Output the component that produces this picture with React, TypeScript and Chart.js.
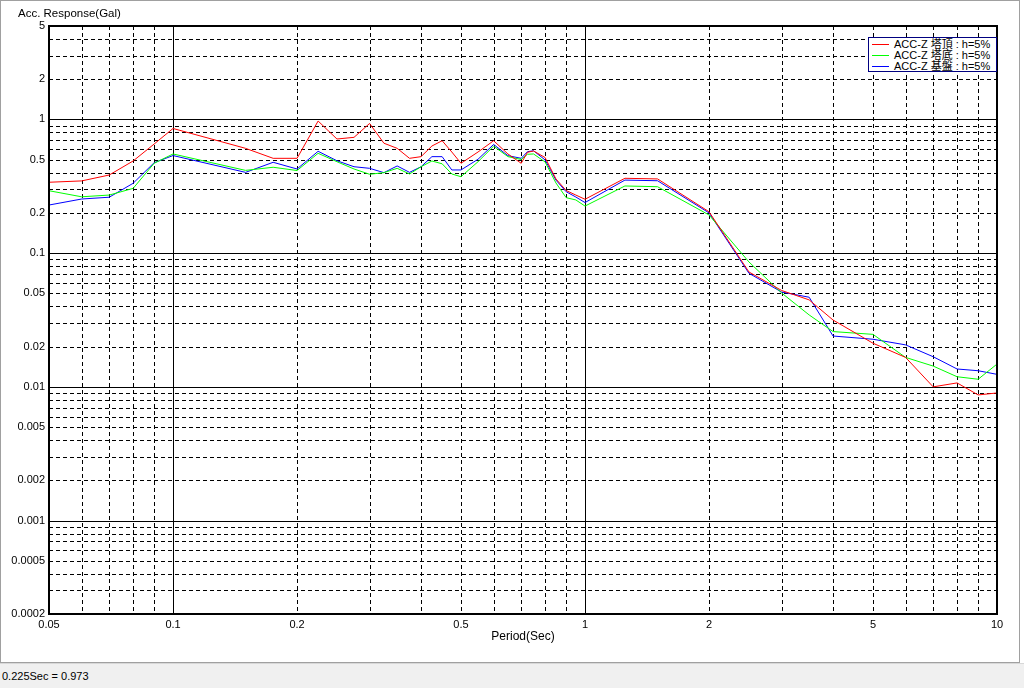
import React, { useEffect, useRef } from "react";
import { Chart, registerables } from "chart.js";

Chart.register(...registerables);

// Periods (sec)
const periods = [
  0.05, 0.06, 0.07, 0.08, 0.09, 0.1, 0.15, 0.175, 0.2, 0.225, 0.25, 0.275, 0.3,
  0.325, 0.35, 0.375, 0.4, 0.425, 0.45, 0.475, 0.5, 0.55, 0.6, 0.65, 0.7, 0.725,
  0.75, 0.8, 0.85, 0.9, 0.95, 1.0, 1.25, 1.5, 2.0, 2.5, 3.0, 3.5, 4, 5, 6, 7, 8, 9, 10,
];

// ACC-Z 塔頂 (red)
const topAcc = [
  0.339, 0.347, 0.384, 0.489, 0.655, 0.856, 0.608, 0.512, 0.512, 0.973, 0.714, 0.735, 0.933,
  0.664, 0.608, 0.512, 0.527, 0.633, 0.693, 0.571, 0.47, 0.571, 0.693, 0.552, 0.47, 0.568,
  0.581, 0.519, 0.359, 0.294, 0.272, 0.253, 0.363, 0.359, 0.204, 0.0723, 0.0526, 0.0447, 0.0316,
  0.0212, 0.0166, 0.01, 0.0107, 0.0087, 0.009,
];

// ACC-Z 塔底 (green)
const bottomAcc = [
  0.293, 0.264, 0.272, 0.305, 0.47, 0.552, 0.416, 0.439, 0.415, 0.558, 0.483, 0.426, 0.389,
  0.4, 0.431, 0.391, 0.443, 0.489, 0.466, 0.391, 0.373, 0.483, 0.631, 0.527, 0.502, 0.549,
  0.552, 0.481, 0.335, 0.26, 0.25, 0.225, 0.318, 0.314, 0.193, 0.0859, 0.0504, 0.0345, 0.0259,
  0.0247, 0.0166, 0.0143, 0.0119, 0.0114, 0.0148,
];

// ACC-Z 基盤 (blue)
const baseAcc = [
  0.229, 0.254, 0.262, 0.333, 0.475, 0.537, 0.402, 0.478, 0.426, 0.578, 0.491, 0.443, 0.431,
  0.4, 0.449, 0.402, 0.443, 0.527, 0.527, 0.419, 0.419, 0.504, 0.65, 0.536, 0.512, 0.574,
  0.583, 0.498, 0.352, 0.288, 0.263, 0.239, 0.352, 0.348, 0.2, 0.0707, 0.0512, 0.0468, 0.024,
  0.0227, 0.0206, 0.0168, 0.0136, 0.0132, 0.0124,
];

const seriesNames = ["ACC-Z 塔頂 : h=5%", "ACC-Z 塔底 : h=5%", "ACC-Z 基盤 : h=5%"];
const seriesColors = ["#ff0000", "#00ff00", "#0000ff"];

const xTickValues = [0.05, 0.1, 0.2, 0.5, 1, 2, 5, 10];
const yTickValues = [
  0.0002, 0.0005, 0.001, 0.002, 0.005, 0.01, 0.02, 0.05, 0.1, 0.2, 0.5, 1, 2, 5,
];

const xMin = 0.05;
const xMax = 10;
const yMin = 0.0002;
const yMax = 5;

const statusText = "0.225Sec = 0.973";
const yTitle = "Acc. Response(Gal)";
const xTitle = "Period(Sec)";

const FONT = '"Liberation Sans", Arial, "Noto Sans CJK JP", sans-serif';

function gridValues(min: number, max: number) {
  const out: { v: number; major: boolean }[] = [];
  for (let e = -5; e <= 2; e++) {
    for (let m = 1; m <= 9; m++) {
      const v = parseFloat((m * Math.pow(10, e)).toPrecision(6));
      if (v >= min * 0.9999 && v <= max * 1.0001) out.push({ v, major: m === 1 });
    }
  }
  return out;
}

const gridPlugin = {
  id: "logGrid",
  beforeDatasetsDraw(chart: any) {
    const { ctx, chartArea, scales } = chart;
    const { left, right, top, bottom } = chartArea;
    ctx.save();
    ctx.lineWidth = 1;
    ctx.strokeStyle = "#000000";
    for (const g of gridValues(xMin, xMax)) {
      const px = Math.round(scales.x.getPixelForValue(g.v)) + 0.5;
      if (px <= left + 1.5 || px >= right - 1.5) continue;
      ctx.setLineDash(g.major ? [] : [4, 3]);
      ctx.beginPath();
      ctx.moveTo(px, top);
      ctx.lineTo(px, bottom);
      ctx.stroke();
    }
    for (const g of gridValues(yMin, yMax)) {
      const py = Math.round(scales.y.getPixelForValue(g.v)) + 0.5;
      if (py <= top + 1.5 || py >= bottom - 1.5) continue;
      ctx.setLineDash(g.major ? [] : [4, 3]);
      ctx.beginPath();
      ctx.moveTo(left, py);
      ctx.lineTo(right, py);
      ctx.stroke();
    }
    ctx.restore();
  },
  afterDatasetsDraw(chart: any) {
    const { ctx, chartArea } = chart;
    const { left, right, top, bottom } = chartArea;
    ctx.save();
    ctx.setLineDash([]);
    ctx.lineWidth = 2;
    ctx.strokeStyle = "#000000";
    ctx.strokeRect(left, top, right - left, bottom - top);
    ctx.restore();
  },
};

function fmt(v: number) {
  return String(parseFloat(v.toPrecision(6)));
}

export default function App() {
  const canvasRef = useRef<HTMLCanvasElement | null>(null);

  useEffect(() => {
    const canvas = canvasRef.current;
    if (!canvas) return;
    const series = [topAcc, bottomAcc, baseAcc];
    const chart = new Chart(canvas, {
      type: "line",
      data: {
        datasets: series.map((arr, i) => ({
          label: seriesNames[i],
          data: periods.map((p, k) => ({ x: p, y: arr[k] })),
          borderColor: seriesColors[i],
          backgroundColor: seriesColors[i],
          borderWidth: 1,
          pointRadius: 0,
          tension: 0,
          fill: false,
        })),
      },
      options: {
        animation: false,
        responsive: false,
        maintainAspectRatio: false,
        devicePixelRatio: 1,
        layout: { padding: { left: 0, top: 26, right: 22, bottom: 0 } },
        plugins: {
          legend: { display: false },
          tooltip: { enabled: false },
        },
        scales: {
          x: {
            type: "logarithmic",
            min: xMin,
            max: xMax,
            grid: { display: false, drawTicks: false },
            border: { display: false },
            afterBuildTicks: (scale: any) => {
              scale.ticks = xTickValues.map((v) => ({ value: v }));
            },
            afterFit: (scale: any) => {
              scale.height = 48;
            },
            ticks: {
              autoSkip: false,
              maxRotation: 0,
              minRotation: 0,
              padding: 4,
              color: "#000",
              font: { family: FONT, size: 11 },
              callback: (v: any) => fmt(Number(v)),
            },
            title: {
              display: true,
              text: xTitle,
              color: "#000",
              font: { family: FONT, size: 12 },
              padding: { top: 0, bottom: 18 },
            },
          },
          y: {
            type: "logarithmic",
            min: yMin,
            max: yMax,
            grid: { display: false, drawTicks: false },
            border: { display: false },
            afterBuildTicks: (scale: any) => {
              scale.ticks = yTickValues.map((v) => ({ value: v }));
            },
            afterFit: (scale: any) => {
              scale.width = 49;
            },
            ticks: {
              autoSkip: false,
              padding: 4,
              color: "#000",
              font: { family: FONT, size: 11 },
              callback: (v: any) => fmt(Number(v)),
            },
          },
        },
      },
      plugins: [gridPlugin],
    } as any);
    return () => chart.destroy();
  }, []);

  return (
    <div
      style={{
        position: "fixed",
        left: 0,
        top: 0,
        width: 1024,
        height: 688,
        background: "#ffffff",
        fontFamily: FONT,
        overflow: "hidden",
      }}
    >
      <div
        style={{
          position: "absolute",
          left: 0,
          top: 0,
          width: 1018,
          height: 661,
          border: "1px solid #a0a0a0",
          background: "#ffffff",
        }}
      />
      <canvas
        ref={canvasRef}
        width={1019}
        height={662}
        style={{ position: "absolute", left: 0, top: 0, width: 1019, height: 662 }}
      />
      <div
        style={{
          position: "absolute",
          left: 18,
          top: 6,
          fontSize: 11.5,
          color: "#000",
          whiteSpace: "nowrap",
          lineHeight: "14px",
        }}
      >
        {yTitle}
      </div>
      <div
        style={{
          position: "absolute",
          left: 868,
          top: 37,
          width: 127,
          height: 33,
          border: "1px solid #000080",
          background: "#ffffff",
        }}
      >
        {seriesNames.map((name, i) => (
          <div
            key={name}
            style={{
              position: "absolute",
              left: 0,
              top: 1 + i * 11,
              height: 11,
              width: 127,
            }}
          >
            <div
              style={{
                position: "absolute",
                left: 3,
                top: 5,
                width: 17,
                height: 1,
                background: seriesColors[i],
              }}
            />
            <div
              style={{
                position: "absolute",
                left: 25,
                top: 0,
                fontSize: 11,
                lineHeight: "11px",
                color: "#000",
                whiteSpace: "nowrap",
              }}
            >
              {name}
            </div>
          </div>
        ))}
      </div>
      <div
        style={{
          position: "absolute",
          left: 0,
          top: 663,
          width: 1024,
          height: 25,
          background: "#f0f0f0",
          borderTop: "1px solid #d8d8d8",
          boxSizing: "border-box",
        }}
      >
        <div
          style={{
            position: "absolute",
            left: 2,
            top: 5,
            fontSize: 11,
            lineHeight: "14px",
            color: "#000",
            whiteSpace: "nowrap",
          }}
        >
          {statusText}
        </div>
      </div>
    </div>
  );
}
